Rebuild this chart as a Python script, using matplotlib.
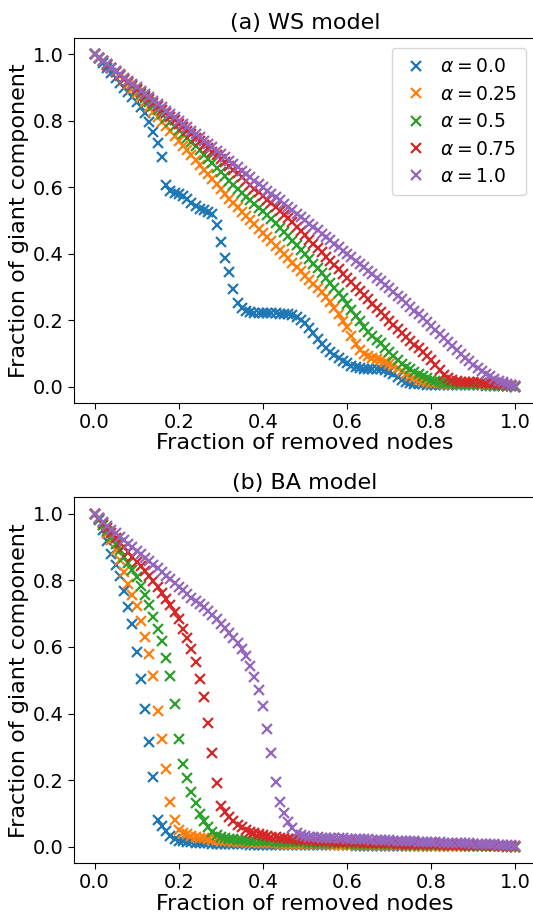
import numpy as np
import matplotlib
matplotlib.use("Agg")
import matplotlib.pyplot as plt

# x grid: fraction of removed nodes (0.00 ... 1.00, step 0.01)
frac_removed = np.round(np.arange(101) * 0.01, 2)

alpha_labels = [r"$\alpha = 0.0$", r"$\alpha = 0.25$", r"$\alpha = 0.5$",
                r"$\alpha = 0.75$", r"$\alpha = 1.0$"]
series_colors = ["#1f77b4", "#ff7f0e", "#2ca02c", "#d62728", "#9467bd"]

# ---------------- (a) WS model ----------------
ws_a00 = [1.0, 0.99, 0.975, 0.958, 0.943, 0.928, 0.913, 0.899, 0.886, 0.872,
          0.857, 0.842, 0.823, 0.797, 0.767, 0.734, 0.692, 0.607, 0.59, 0.582,
          0.579, 0.574, 0.564, 0.553, 0.543, 0.535, 0.530, 0.526, 0.518, 0.487,
          0.434, 0.386, 0.346, 0.293, 0.253, 0.236, 0.228, 0.224, 0.222, 0.221,
          0.221, 0.221, 0.221, 0.221, 0.220, 0.220, 0.219, 0.216, 0.210, 0.201,
          0.19, 0.176, 0.16, 0.143, 0.128, 0.115, 0.105, 0.096, 0.087, 0.078,
          0.07, 0.063, 0.058, 0.055, 0.054, 0.053, 0.053, 0.053, 0.052, 0.05,
          0.045, 0.037, 0.028, 0.02, 0.014, 0.01, 0.008, 0.007, 0.007, 0.006,
          0.006, 0.006, 0.005, 0.005, 0.005, 0.005, 0.005, 0.004, 0.004, 0.004,
          0.004, 0.004, 0.004, 0.003, 0.003, 0.003, 0.003, 0.002, 0.002, 0.001, 0.0]
ws_a25 = [1.0, 0.99, 0.98, 0.969, 0.958, 0.946, 0.934, 0.922, 0.909, 0.896,
          0.883, 0.870, 0.856, 0.842, 0.827, 0.812, 0.797, 0.783, 0.768, 0.754,
          0.740, 0.725, 0.711, 0.697, 0.682, 0.668, 0.653, 0.639, 0.624, 0.610,
          0.595, 0.581, 0.566, 0.552, 0.539, 0.526, 0.513, 0.500, 0.488, 0.475,
          0.462, 0.449, 0.437, 0.424, 0.411, 0.398, 0.386, 0.373, 0.360, 0.347,
          0.334, 0.322, 0.310, 0.297, 0.284, 0.270, 0.255, 0.238, 0.220, 0.199,
          0.178, 0.153, 0.128, 0.11, 0.099, 0.092, 0.087, 0.083, 0.079, 0.074,
          0.068, 0.062, 0.055, 0.047, 0.039, 0.032, 0.026, 0.021, 0.017, 0.014,
          0.012, 0.011, 0.010, 0.009, 0.009, 0.009, 0.008, 0.008, 0.008, 0.007,
          0.007, 0.007, 0.006, 0.006, 0.005, 0.005, 0.004, 0.004, 0.003, 0.002, 0.0]
ws_a50 = [1.0, 0.99, 0.98, 0.97, 0.96, 0.949, 0.938, 0.927, 0.916, 0.905,
          0.893, 0.881, 0.869, 0.857, 0.845, 0.833, 0.821, 0.809, 0.797, 0.785,
          0.773, 0.761, 0.749, 0.737, 0.724, 0.711, 0.698, 0.685, 0.672, 0.659,
          0.646, 0.633, 0.620, 0.607, 0.595, 0.583, 0.572, 0.561, 0.550, 0.538,
          0.527, 0.515, 0.503, 0.491, 0.478, 0.465, 0.452, 0.439, 0.426, 0.412,
          0.398, 0.384, 0.370, 0.356, 0.341, 0.326, 0.311, 0.296, 0.281, 0.266,
          0.250, 0.232, 0.214, 0.196, 0.178, 0.165, 0.153, 0.141, 0.130, 0.117,
          0.104, 0.091, 0.079, 0.069, 0.060, 0.052, 0.045, 0.038, 0.031, 0.025,
          0.020, 0.016, 0.013, 0.011, 0.010, 0.010, 0.009, 0.009, 0.009, 0.008,
          0.008, 0.008, 0.007, 0.007, 0.006, 0.006, 0.005, 0.004, 0.003, 0.002, 0.0]
ws_a75 = [1.0, 0.99, 0.98, 0.969, 0.959, 0.948, 0.938, 0.927, 0.917, 0.906,
          0.896, 0.885, 0.875, 0.864, 0.854, 0.843, 0.833, 0.822, 0.811, 0.801,
          0.790, 0.780, 0.769, 0.759, 0.748, 0.738, 0.727, 0.717, 0.706, 0.696,
          0.685, 0.675, 0.664, 0.653, 0.642, 0.630, 0.619, 0.608, 0.596, 0.585,
          0.574, 0.563, 0.551, 0.540, 0.529, 0.517, 0.506, 0.494, 0.481, 0.468,
          0.455, 0.442, 0.429, 0.417, 0.404, 0.391, 0.378, 0.365, 0.353, 0.340,
          0.327, 0.314, 0.301, 0.289, 0.276, 0.263, 0.250, 0.237, 0.225, 0.212,
          0.199, 0.186, 0.174, 0.161, 0.148, 0.137, 0.126, 0.115, 0.103, 0.092,
          0.080, 0.066, 0.050, 0.036, 0.026, 0.020, 0.017, 0.015, 0.014, 0.014,
          0.013, 0.013, 0.012, 0.012, 0.011, 0.010, 0.009, 0.008, 0.006, 0.004, 0.001]
ws_a100 = [1.0, 0.99, 0.98, 0.97, 0.96, 0.95, 0.94, 0.93, 0.92, 0.91,
           0.90, 0.89, 0.88, 0.87, 0.86, 0.85, 0.84, 0.83, 0.82, 0.81,
           0.80, 0.79, 0.78, 0.77, 0.76, 0.75, 0.74, 0.73, 0.72, 0.71,
           0.70, 0.69, 0.68, 0.67, 0.66, 0.65, 0.64, 0.63, 0.62, 0.61,
           0.60, 0.59, 0.58, 0.57, 0.56, 0.55, 0.54, 0.53, 0.52, 0.51,
           0.50, 0.49, 0.48, 0.47, 0.46, 0.45, 0.44, 0.43, 0.419, 0.409,
           0.399, 0.389, 0.379, 0.369, 0.359, 0.348, 0.338, 0.328, 0.317, 0.307,
           0.296, 0.285, 0.274, 0.263, 0.252, 0.241, 0.229, 0.218, 0.206, 0.194,
           0.182, 0.17, 0.158, 0.146, 0.134, 0.122, 0.11, 0.098, 0.087, 0.076,
           0.065, 0.055, 0.046, 0.038, 0.031, 0.024, 0.018, 0.013, 0.009, 0.005, 0.001]

# ---------------- (b) BA model ----------------
ba_a00 = [1.0, 0.98, 0.95, 0.917, 0.88, 0.847, 0.813, 0.767, 0.72, 0.67,
          0.585, 0.503, 0.415, 0.315, 0.208, 0.08, 0.063, 0.047, 0.032, 0.022,
          0.018, 0.016, 0.014, 0.013, 0.012, 0.011, 0.010, 0.010, 0.009, 0.009,
          0.008, 0.008, 0.008, 0.007, 0.007, 0.007, 0.007, 0.006, 0.006, 0.006,
          0.006, 0.006, 0.006, 0.005, 0.005, 0.005, 0.005, 0.005, 0.005, 0.005,
          0.005, 0.005, 0.004, 0.004, 0.004, 0.004, 0.004, 0.004, 0.004, 0.004,
          0.004, 0.004, 0.003, 0.003, 0.003, 0.003, 0.003, 0.003, 0.003, 0.003,
          0.003, 0.003, 0.003, 0.003, 0.002, 0.002, 0.002, 0.002, 0.002, 0.002,
          0.002, 0.002, 0.002, 0.002, 0.002, 0.002, 0.001, 0.001, 0.001, 0.001,
          0.001, 0.001, 0.001, 0.001, 0.001, 0.001, 0.001, 0.001, 0.0, 0.0, 0.0]
ba_a25 = [1.0, 0.985, 0.965, 0.943, 0.92, 0.89, 0.86, 0.825, 0.79, 0.757,
          0.722, 0.677, 0.63, 0.578, 0.513, 0.407, 0.325, 0.232, 0.135, 0.08,
          0.05, 0.042, 0.037, 0.033, 0.03, 0.027, 0.025, 0.023, 0.021, 0.02,
          0.018, 0.017, 0.016, 0.015, 0.014, 0.013, 0.013, 0.012, 0.012, 0.011,
          0.011, 0.010, 0.010, 0.010, 0.009, 0.009, 0.009, 0.009, 0.008, 0.008,
          0.008, 0.008, 0.007, 0.007, 0.007, 0.007, 0.007, 0.006, 0.006, 0.006,
          0.006, 0.006, 0.005, 0.005, 0.005, 0.005, 0.005, 0.005, 0.004, 0.004,
          0.004, 0.004, 0.004, 0.004, 0.004, 0.003, 0.003, 0.003, 0.003, 0.003,
          0.003, 0.003, 0.003, 0.002, 0.002, 0.002, 0.002, 0.002, 0.002, 0.002,
          0.002, 0.002, 0.001, 0.001, 0.001, 0.001, 0.001, 0.001, 0.001, 0.0, 0.0]
ba_a50 = [1.0, 0.985, 0.967, 0.948, 0.93, 0.91, 0.89, 0.871, 0.852, 0.832,
          0.81, 0.782, 0.755, 0.725, 0.69, 0.653, 0.617, 0.568, 0.513, 0.43,
          0.325, 0.25, 0.207, 0.165, 0.13, 0.098, 0.077, 0.06, 0.043, 0.034,
          0.029, 0.026, 0.024, 0.022, 0.021, 0.02, 0.019, 0.018, 0.018, 0.017,
          0.017, 0.016, 0.016, 0.015, 0.015, 0.014, 0.014, 0.014, 0.013, 0.013,
          0.013, 0.012, 0.012, 0.012, 0.011, 0.011, 0.011, 0.010, 0.010, 0.010,
          0.010, 0.009, 0.009, 0.009, 0.009, 0.008, 0.008, 0.008, 0.008, 0.007,
          0.007, 0.007, 0.007, 0.007, 0.006, 0.006, 0.006, 0.006, 0.006, 0.005,
          0.005, 0.005, 0.005, 0.005, 0.004, 0.004, 0.004, 0.004, 0.004, 0.003,
          0.003, 0.003, 0.003, 0.003, 0.002, 0.002, 0.002, 0.002, 0.001, 0.001, 0.0]
ba_a75 = [1.0, 0.986, 0.971, 0.957, 0.942, 0.928, 0.913, 0.899, 0.884, 0.87,
          0.855, 0.842, 0.828, 0.813, 0.797, 0.78, 0.762, 0.745, 0.727, 0.706,
          0.683, 0.655, 0.627, 0.594, 0.555, 0.503, 0.449, 0.373, 0.282, 0.19,
          0.122, 0.105, 0.09, 0.077, 0.066, 0.058, 0.051, 0.045, 0.041, 0.037,
          0.034, 0.032, 0.03, 0.028, 0.027, 0.025, 0.024, 0.023, 0.022, 0.021,
          0.02, 0.019, 0.018, 0.018, 0.017, 0.016, 0.016, 0.015, 0.015, 0.014,
          0.014, 0.013, 0.013, 0.013, 0.012, 0.012, 0.011, 0.011, 0.011, 0.010,
          0.010, 0.010, 0.009, 0.009, 0.009, 0.009, 0.008, 0.008, 0.008, 0.007,
          0.007, 0.007, 0.007, 0.006, 0.006, 0.006, 0.006, 0.005, 0.005, 0.005,
          0.005, 0.004, 0.004, 0.004, 0.004, 0.003, 0.003, 0.003, 0.002, 0.002, 0.001]
ba_a100 = [1.0, 0.987, 0.975, 0.963, 0.952, 0.941, 0.93, 0.92, 0.909, 0.899,
           0.889, 0.879, 0.868, 0.858, 0.847, 0.836, 0.825, 0.814, 0.803, 0.792,
           0.781, 0.77, 0.759, 0.748, 0.737, 0.73, 0.72, 0.708, 0.696, 0.684,
           0.67, 0.656, 0.643, 0.628, 0.612, 0.595, 0.572, 0.542, 0.51, 0.472,
           0.423, 0.355, 0.283, 0.195, 0.135, 0.1, 0.075, 0.055, 0.042, 0.035,
           0.031, 0.03, 0.029, 0.028, 0.027, 0.027, 0.026, 0.026, 0.025, 0.025,
           0.024, 0.024, 0.023, 0.023, 0.022, 0.022, 0.021, 0.021, 0.020, 0.019,
           0.019, 0.018, 0.018, 0.017, 0.017, 0.016, 0.016, 0.015, 0.015, 0.014,
           0.014, 0.013, 0.013, 0.012, 0.012, 0.012, 0.011, 0.011, 0.010, 0.010,
           0.009, 0.009, 0.008, 0.008, 0.007, 0.007, 0.006, 0.006, 0.005, 0.004, 0.002]

ws_series = [ws_a00, ws_a25, ws_a50, ws_a75, ws_a100]
ba_series = [ba_a00, ba_a25, ba_a50, ba_a75, ba_a100]

TICK_FS = 14
LABEL_FS = 16
TITLE_FS = 16
LEGEND_FS = 13.5

fig = plt.figure(figsize=(5.33, 9.13), dpi=100)
ax1 = fig.add_axes([0.1379, 0.5583, 0.8687, 0.4005])
ax2 = fig.add_axes([0.1379, 0.0543, 0.8687, 0.4013])

for ax, series, title in [(ax1, ws_series, "(a) WS model"),
                          (ax2, ba_series, "(b) BA model")]:
    for ys, lab, col in zip(series, alpha_labels, series_colors):
        ax.plot(frac_removed, ys, linestyle="none", marker="x",
                markersize=7, markeredgewidth=1.6, color=col, label=lab)
    ax.set_xlim(-0.05, 1.05)
    ax.set_ylim(-0.05, 1.05)
    ax.set_xticks([0.0, 0.2, 0.4, 0.6, 0.8, 1.0])
    ax.set_yticks([0.0, 0.2, 0.4, 0.6, 0.8, 1.0])
    ax.tick_params(labelsize=TICK_FS, length=4, pad=3)
    ax.set_xlabel("Fraction of removed nodes", fontsize=LABEL_FS, labelpad=1)
    ax.set_ylabel("Fraction of giant component", fontsize=LABEL_FS, labelpad=3)
    ax.set_title(title, fontsize=TITLE_FS, pad=6)

ax1.legend(loc="upper right", fontsize=LEGEND_FS, borderaxespad=0.55,
           handletextpad=0.5, labelspacing=0.45, handlelength=1.6,
           borderpad=0.5)

fig.savefig("out.png", dpi=100)
